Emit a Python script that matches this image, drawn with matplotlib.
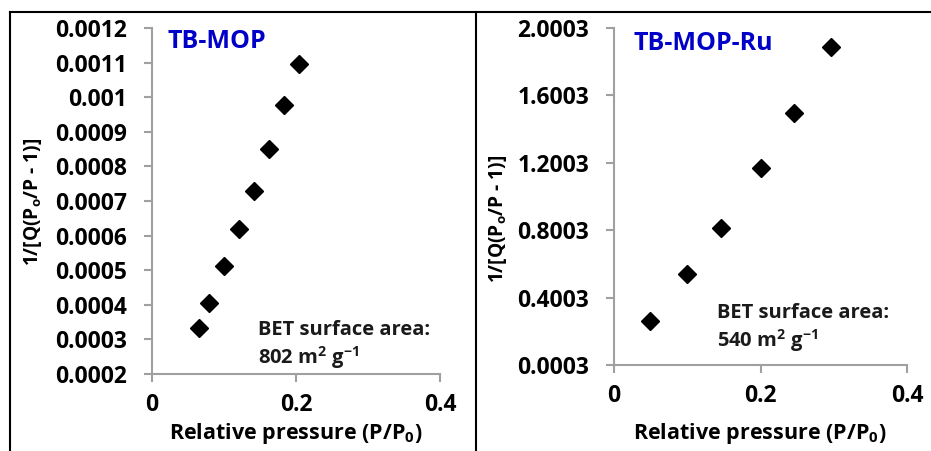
import matplotlib
matplotlib.use("Agg")
import matplotlib.pyplot as plt
from matplotlib.lines import Line2D

FONT = 'Open Sans'
plt.rcParams['font.family'] = [FONT, 'DejaVu Sans']
plt.rcParams['font.weight'] = 'bold'
plt.rcParams['mathtext.fontset'] = 'custom'
plt.rcParams['mathtext.rm'] = FONT + ':bold'
plt.rcParams['mathtext.it'] = FONT + ':bold'
plt.rcParams['mathtext.bf'] = FONT + ':bold'

# ---- data ----
x_mop = [0.0647, 0.0786, 0.0994, 0.1202, 0.1410, 0.1623, 0.1836, 0.2044]
y_mop = [0.000332, 0.000406, 0.000512, 0.000620, 0.000730, 0.000851, 0.000977, 0.001097]

x_ru = [0.0492, 0.0993, 0.1462, 0.2005, 0.2460, 0.2957]
y_ru = [0.2637, 0.5409, 0.8161, 1.1666, 1.4953, 1.8853]

x_ticks = [0, 0.2, 0.4]
x_ticklabels = ['0', '0.2', '0.4']
y_ticks_mop = [0.0002, 0.0003, 0.0004, 0.0005, 0.0006, 0.0007, 0.0008, 0.0009, 0.001, 0.0011, 0.0012]
y_ticklabels_mop = ['0.0002', '0.0003', '0.0004', '0.0005', '0.0006', '0.0007', '0.0008', '0.0009', '0.001', '0.0011', '0.0012']
y_ticks_ru = [0.0003, 0.4003, 0.8003, 1.2003, 1.6003, 2.0003]
y_ticklabels_ru = ['0.0003', '0.4003', '0.8003', '1.2003', '1.6003', '2.0003']

title_mop = 'TB-MOP'
title_ru = 'TB-MOP-Ru'
bet_mop = ['BET surface area:', '802 m$^2$ g$^{-1}$']
bet_ru = ['BET surface area:', '540 m$^2$ g$^{-1}$']
xlabel = 'Relative pressure (P/P$_0$)'
ylabel = '1/[Q(P$_o$/P - 1)]'

W, H = 931, 451
fig = plt.figure(figsize=(W / 100, H / 100), dpi=100)


def fx(px):
    return px / W


def fy(py):
    return 1 - py / H


def make_axes(left, right, top, bottom):
    return fig.add_axes([fx(left), fy(bottom), fx(right - left), (bottom - top) / H])


axis_color = '#a0a0a0'
tick_fs = 16.5
label_fs = 15.5
ylabel_fs = 13.8
title_fs = 18
bet_fs = 14.5


def style(ax, xs, ys, yticks, yticklabels, ylim):
    ax.plot(xs, ys, linestyle='none', marker='D', markersize=9, color='black')
    ax.set_xlim(0, 0.4)
    ax.set_ylim(*ylim)
    ax.set_xticks(x_ticks)
    ax.set_xticklabels(x_ticklabels)
    ax.set_yticks(yticks)
    ax.set_yticklabels(yticklabels)
    for s in ['top', 'right']:
        ax.spines[s].set_visible(False)
    for s in ['left', 'bottom']:
        ax.spines[s].set_color(axis_color)
        ax.spines[s].set_linewidth(1.5)
    ax.tick_params(axis='both', direction='out', length=6, width=1.5, color=axis_color,
                   labelsize=tick_fs, labelcolor='black')
    ax.tick_params(axis='x', pad=8)
    ax.tick_params(axis='y', pad=12)
    for lab in ax.get_xticklabels() + ax.get_yticklabels():
        lab.set_fontweight('bold')
    ax.patch.set_alpha(0)


ax1 = make_axes(152, 440, 28, 374)
style(ax1, x_mop, y_mop, y_ticks_mop, y_ticklabels_mop, (0.0002, 0.0012))
ax2 = make_axes(614, 907, 28, 365)
style(ax2, x_ru, y_ru, y_ticks_ru, y_ticklabels_ru, (0.0003, 2.0003))

# titles
fig.text(fx(168), fy(48), title_mop, color='#0000c8', fontsize=title_fs, fontweight='bold', va='baseline')
fig.text(fx(633), fy(50), title_ru, color='#0000c8', fontsize=title_fs, fontweight='bold', va='baseline')

# BET annotations
fig.text(fx(258), fy(335), bet_mop[0], color='#1a1a1a', fontsize=bet_fs, fontweight='bold', va='baseline')
fig.text(fx(258), fy(364), bet_mop[1], color='#1a1a1a', fontsize=bet_fs, fontweight='bold', va='baseline')
fig.text(fx(717), fy(318), bet_ru[0], color='#1a1a1a', fontsize=bet_fs, fontweight='bold', va='baseline')
fig.text(fx(717), fy(347), bet_ru[1], color='#1a1a1a', fontsize=bet_fs, fontweight='bold', va='baseline')

# axis labels
fig.text(fx(296), fy(434), xlabel, fontsize=label_fs, fontweight='bold', ha='center', va='center')
fig.text(fx(760), fy(434), xlabel, fontsize=label_fs, fontweight='bold', ha='center', va='center')
fig.text(fx(33), fy(202), ylabel, fontsize=ylabel_fs, fontweight='bold', ha='center', va='center', rotation=90)
fig.text(fx(498), fy(219), ylabel, fontsize=ylabel_fs, fontweight='bold', ha='center', va='center', rotation=90)

# panel frame lines
fig.add_artist(Line2D([fx(9.5), fx(9.5)], [fy(12), fy(451)], color='black', lw=1.5))
fig.add_artist(Line2D([fx(9.5), fx(931)], [fy(12), fy(12)], color='black', lw=1.5))
fig.add_artist(Line2D([fx(476), fx(476)], [fy(12), fy(451)], color='black', lw=1.5))

fig.savefig('out.png', dpi=100)
